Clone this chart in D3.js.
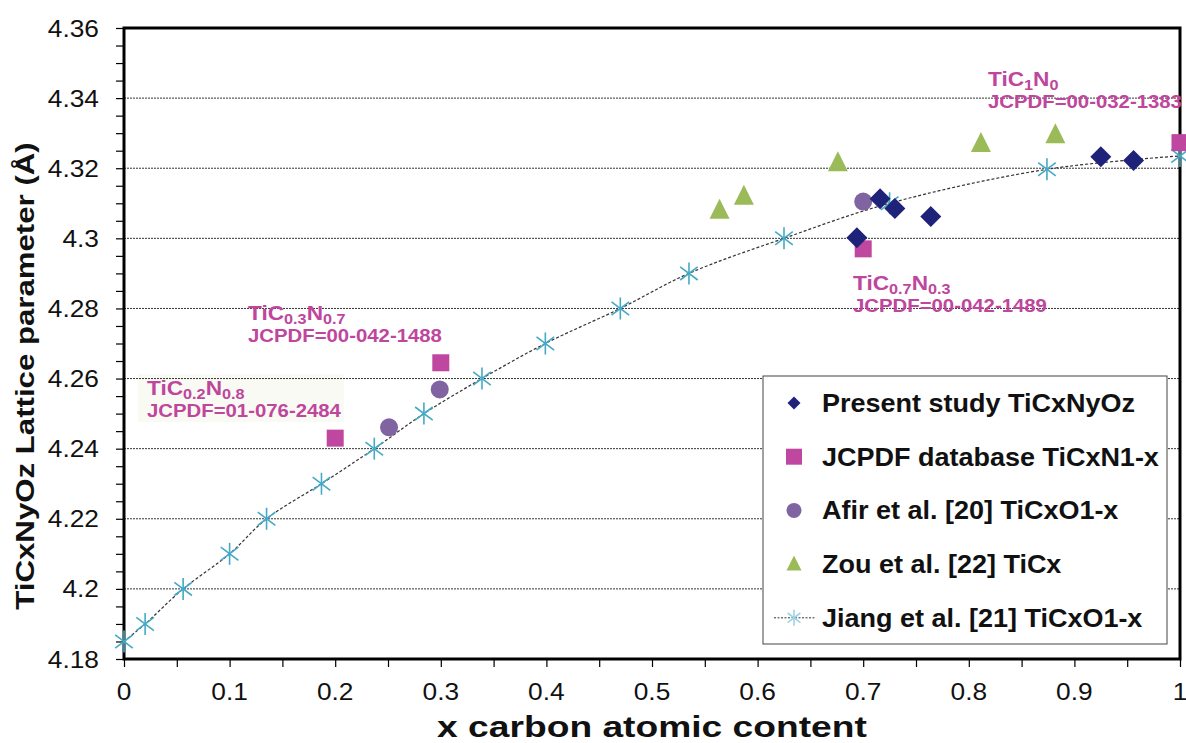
<!DOCTYPE html>
<html><head><meta charset="utf-8">
<script src="https://cdn.jsdelivr.net/npm/d3@7/dist/d3.min.js"></script>
<style>body{margin:0;background:#fff;}svg{display:block;font-family:"Liberation Sans",Arial,sans-serif;}</style>
</head><body><svg id="c" width="1186" height="743"></svg>
<script>
// ---- data ----
const presentX = [0.694, 0.716, 0.730, 0.764, 0.925, 0.956];
const presentY = [4.3002, 4.3113, 4.3085, 4.3062, 4.3233, 4.3222];
const jcpdfX = [0.2, 0.3, 0.7, 1.0];
const jcpdfY = [4.243, 4.2645, 4.297, 4.3273];
const afirX = [0.251, 0.299, 0.700];
const afirY = [4.2461, 4.2569, 4.3105];
const zouX = [0.564, 0.587, 0.676, 0.8115, 0.882];
const zouY = [4.308, 4.312, 4.3215, 4.327, 4.3295];
const jiangX = [0, 0.02, 0.056, 0.1, 0.135, 0.187, 0.237, 0.284, 0.339, 0.399, 0.47, 0.535, 0.625, 0.725, 0.874, 1.0];
const jiangY = [4.185, 4.19, 4.2, 4.21, 4.22, 4.23, 4.24, 4.25, 4.26, 4.27, 4.28, 4.29, 4.30, 4.31, 4.3197, 4.3235];
const yTicks = [4.18, 4.2, 4.22, 4.24, 4.26, 4.28, 4.3, 4.32, 4.34, 4.36];
const xTicks = [0, 0.1, 0.2, 0.3, 0.4, 0.5, 0.6, 0.7, 0.8, 0.9, 1];
const legendLabels = ["Present study TiCxNyOz", "JCPDF database TiCxN1-x", "Afir et al. [20] TiCxO1-x", "Zou et al. [22] TiCx", "Jiang et al. [21] TiCxO1-x"];
const annotations = [
  {main: ["TiC", "0.2", "N", "0.8"], code: "JCPDF=01-076-2484"},
  {main: ["TiC", "0.3", "N", "0.7"], code: "JCPDF=00-042-1488"},
  {main: ["TiC", "0.7", "N", "0.3"], code: "JCPDF=00-042-1489"},
  {main: ["TiC", "1", "N", "0"], code: "JCPDF=00-032-1383"}
];
// ---- styles ----
const C = {present:"#1f2279", jcpdf:"#c0479f", afir:"#8064a2", zou:"#9bbb59", jiang:"#45a9c6", annot:"#bf469d"};
const L = 124, R = 1180, T = 28, B = 659;
const svg = d3.select("#c");
const x = d3.scaleLinear().domain([0,1]).range([L,R]);
const y = d3.scaleLinear().domain([4.18,4.36]).range([B,T]);

// text helper with slight horizontal stretch
function txt(px, py, str, opt) {
  const k = opt.k || 1.1;
  const rot = opt.rot ? ` rotate(${opt.rot})` : "";
  const t = svg.append("text").attr("transform", `translate(${px},${py})${rot} scale(${k},1)`)
    .attr("font-size", opt.size).attr("font-weight", opt.bold ? "bold" : "normal")
    .attr("fill", opt.fill || "#111").attr("text-anchor", opt.anchor || "start");
  if (str !== null) t.text(str);
  return t;
}

// gridlines
svg.append("g").selectAll("line").data(yTicks.slice(1,-1)).join("line")
  .attr("x1",L).attr("x2",R).attr("y1",d=>y(d)).attr("y2",d=>y(d))
  .attr("stroke","#333").attr("stroke-width",1).attr("stroke-dasharray","2,1");

// axes (ticks)
const fmt = d => String(+d.toFixed(2));
const yMinor = d3.range(0,37).map(i=>4.18+i*0.005);
const xMinor = d3.range(0,21).map(i=>i*0.05);
const ya = svg.append("g").attr("transform",`translate(${L},0)`)
  .call(d3.axisLeft(y).tickValues(yMinor).tickSize(8).tickFormat(""));
ya.select(".domain").remove();
ya.selectAll("line").attr("stroke","#000").attr("stroke-width",1.2);
const xa = svg.append("g").attr("transform",`translate(0,${B})`)
  .call(d3.axisBottom(x).tickValues(xMinor).tickSize(8).tickFormat(""));
xa.select(".domain").remove();
xa.selectAll("line").attr("stroke","#000").attr("stroke-width",1.2);

// tick labels
yTicks.forEach(v => txt(99, y(v) + 8.5, fmt(v), {size: 23.5, k: 1.12, anchor: "end"}));
xTicks.forEach(v => txt(x(v), 700, fmt(v), {size: 23.5, k: 1.12, anchor: "middle"}));

// frame
svg.append("rect").attr("x",L).attr("y",T).attr("width",R-L).attr("height",B-T)
  .attr("fill","none").attr("stroke","#000").attr("stroke-width",3);

// axis titles
txt(652, 737, "x carbon atomic content", {size: 30, k: 1.24, bold: true, anchor: "middle"});
txt(34, 376, "TiCxNyOz Lattice parameter (Å)", {size: 26, k: 1.2, bold: true, anchor: "middle", rot: -90});

// markers
const star = (g, s, col) => {
  const h = s/2, d = h*0.8;
  g.append("line").attr("x1",0).attr("x2",0).attr("y1",-h).attr("y2",h);
  g.append("line").attr("x1",-d).attr("x2",d).attr("y1",-d*0.75).attr("y2",d*0.75);
  g.append("line").attr("x1",-d).attr("x2",d).attr("y1",d*0.75).attr("y2",-d*0.75);
  g.selectAll("line").attr("stroke",col).attr("stroke-width",1.6);
};
const drawMarker = (g, type, s) => {
  if (type==="diamond") g.append("path").attr("d",`M0,${-s/2}L${s/2},0L0,${s/2}L${-s/2},0Z`).attr("fill",C.present);
  if (type==="square") g.append("rect").attr("x",-s/2).attr("y",-s/2).attr("width",s).attr("height",s).attr("fill",C.jcpdf);
  if (type==="circle") g.append("circle").attr("r",s/2).attr("fill",C.afir);
  if (type==="tri") g.append("path").attr("d",`M0,${-s*0.58}L${s/2},${s*0.42}L${-s/2},${s*0.42}Z`).attr("fill",C.zou);
  if (type==="star") star(g, s, C.jiang);
};

// Jiang line
const jiang = jiangX.map((v,i)=>[v,jiangY[i]]);
svg.append("path").attr("d", d3.line().x(d=>x(d[0])).y(d=>y(d[1])).curve(d3.curveCatmullRom)(jiang))
  .attr("fill","none").attr("stroke","#333").attr("stroke-width",1.2).attr("stroke-dasharray","3,2");

const series = [
  {xs: jiangX, ys: jiangY, type:"star", s:22},
  {xs: zouX, ys: zouY, type:"tri", s:20},
  {xs: afirX, ys: afirY, type:"circle", s:18},
  {xs: jcpdfX, ys: jcpdfY, type:"square", s:17},
  {xs: presentX, ys: presentY, type:"diamond", s:21}
];
series.forEach(se => {
  se.xs.forEach((v,i) => {
    const g = svg.append("g").attr("transform",`translate(${x(v)},${y(se.ys[i])})`);
    drawMarker(g, se.type, se.s);
  });
});

// annotations
const annPos = [[147,395],[248,320],[853,290],[988,86]];
svg.insert("rect", "g").attr("x",138).attr("y",374).attr("width",206).attr("height",48).attr("fill","#f5f3e6").attr("opacity",0.45);
annotations.forEach((a,i) => {
  const [ax, ay] = annPos[i];
  const t = txt(ax, ay, null, {size: 21, k: 1.08, bold: true, fill: C.annot});
  t.append("tspan").text(a.main[0]);
  t.append("tspan").attr("dy",4).attr("font-size",15).text(a.main[1]);
  t.append("tspan").attr("dy",-4).text(a.main[2]);
  t.append("tspan").attr("dy",4).attr("font-size",15).text(a.main[3]);
  txt(ax, ay + 22, a.code, {size: 18.5, k: 1.1, bold: true, fill: C.annot});
});

// legend
const lg = svg.append("g");
lg.append("rect").attr("x",763).attr("y",376).attr("width",404).attr("height",268)
  .attr("fill","#fff").attr("stroke","#444").attr("stroke-width",1);
const legTypes = ["diamond","square","circle","tri","star"];
const legSizes = [13,16,15,15,16];
legendLabels.forEach((lab,i) => {
  const cy = 403 + i*53.7;
  if (legTypes[i]==="star") {
    lg.append("line").attr("x1",774).attr("x2",815).attr("y1",cy).attr("y2",cy)
      .attr("stroke","#333").attr("stroke-width",1).attr("stroke-dasharray","2,1.5");
  }
  const g = lg.append("g").attr("transform",`translate(794,${cy})`);
  drawMarker(g, legTypes[i], legSizes[i]);
  if (legTypes[i]==="star") g.selectAll("line").attr("stroke","#9fd3e6");
  txt(822, cy + 9, lab, {size: 25, k: 1.08, bold: true});
});
</script></body></html>
